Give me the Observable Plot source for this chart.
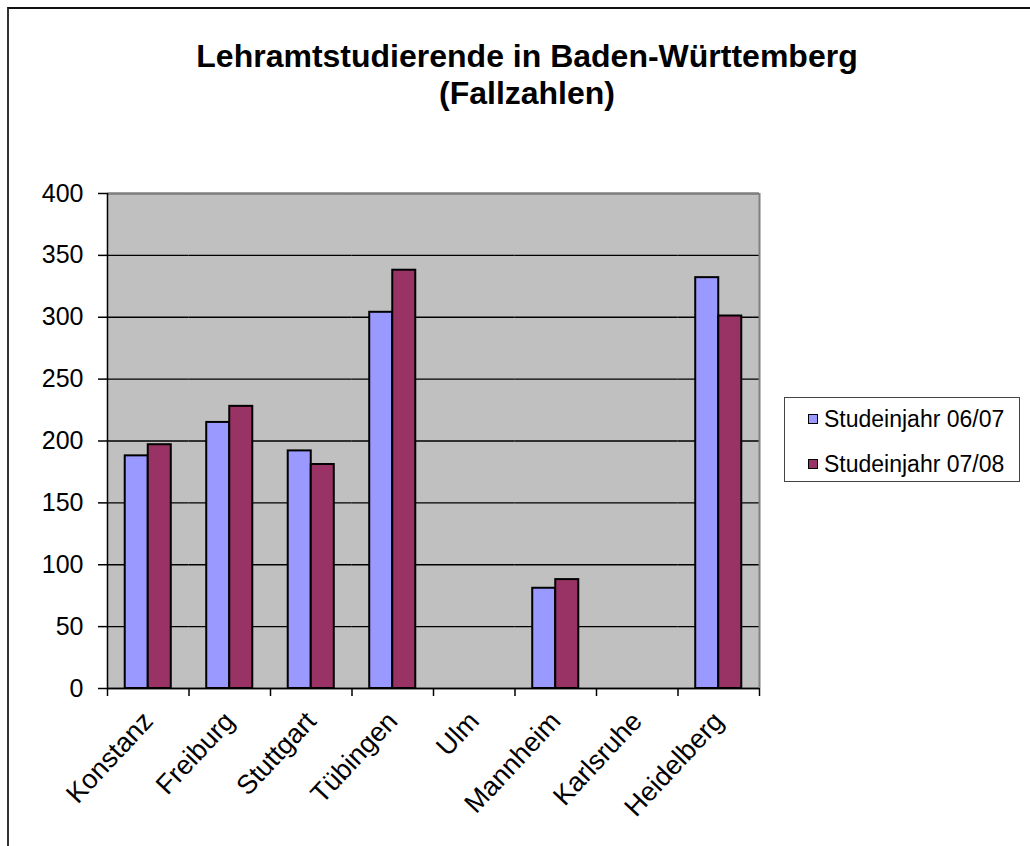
<!DOCTYPE html>
<html><head><meta charset="utf-8">
<script src="https://cdn.jsdelivr.net/npm/d3@7"></script>
<script src="https://cdn.jsdelivr.net/npm/@observablehq/plot@0.6"></script>
<style>
html,body{margin:0;padding:0;background:#fff;width:1030px;height:846px;overflow:hidden;font-family:"Liberation Sans",Arial,sans-serif;}
#frame{position:absolute;left:7px;top:7px;width:1200px;height:1000px;border-top:2px solid #111;border-left:2px solid #333;box-sizing:border-box;}
#wrap{position:absolute;left:0;top:0;width:1030px;}
#title{height:74px;padding:38px 0 38px 24px;text-align:center;font-weight:bold;font-size:32px;line-height:37px;color:#000;}
#chart svg{display:block;overflow:visible;}
#legend{position:absolute;left:784px;top:397px;width:236px;height:85px;border:1px solid #444;background:#fff;box-sizing:border-box;}
.item{position:absolute;left:23px;height:26px;display:flex;align-items:center;font-size:23px;color:#000;white-space:nowrap;}
.sw{width:8px;height:8px;border:1.5px solid #000;margin-right:6px;}
</style>
</head><body>
<div id="frame"></div>
<div id="wrap">
  <div id="title">Lehramtstudierende in Baden-Württemberg<br>(Fallzahlen)</div>
  <div id="chart"></div>
  <div id="legend"></div>
</div>
<script>
const cities = ["Konstanz","Freiburg","Stuttgart","Tübingen","Ulm","Mannheim","Karlsruhe","Heidelberg"];
const series = ["Studeinjahr 06/07","Studeinjahr 07/08"];
const values0607 = [188,215,192,304,0,81,0,332];
const values0708 = [197,228,181,338,0,88,0,301];
const yTicks = [0,50,100,150,200,250,300,350,400];
const colors = ["#9999FF","#993366"];

const data = [];
cities.forEach((c,i)=>{
  data.push({city:c, series:series[0], value:values0607[i]});
  data.push({city:c, series:series[1], value:values0708[i]});
});

const W=1030, H=696, mL=107, mR=271, mT=43, mB=158;
const po = 0.77;
const facetW = (W-mL-mR)/cities.length;
const step = facetW/(series.length+2*po);
const edge = step/2 + po*step;
const last = cities[cities.length-1];

const chart = Plot.plot({
  width: W, height: H, marginLeft: mL, marginRight: mR, marginTop: mT, marginBottom: mB,
  style: {fontFamily: "Liberation Sans, Arial, sans-serif", fontSize: "25px", color: "#000", background: "transparent"},
  fx: {domain: cities, padding: 0, round: false, label: null},
  x: {domain: series, paddingInner: 0, paddingOuter: po, round: false, axis: null},
  y: {domain: [0,400], label: null},
  color: {domain: series, range: colors},
  marks: [
    Plot.frame({fill: "#c0c0c0", stroke: null, insetLeft: -0.6, insetRight: -0.6}),
    Plot.gridY(yTicks, {stroke: "#000", strokeOpacity: 1, strokeWidth: 1.3}),
    Plot.ruleY([400], {stroke: "#808080", strokeWidth: 2}),
    Plot.ruleX([last], {fx: d=>d, x: ()=>series[1], dx: edge, y1: 0, y2: 400, stroke: "#808080", strokeWidth: 2}),
    Plot.barY(data.filter(d=>d.value>0), {fx: "city", x: "series", y: "value", fill: "series", stroke: "#000", strokeWidth: 2}),
    Plot.ruleY([0], {stroke: "#000", strokeWidth: 1.5}),
    Plot.ruleX(cities, {fx: d=>d, x: ()=>series[0], dx: -edge, y1: 0, y2: 0, insetBottom: -8, stroke: "#000", strokeWidth: 1.5}),
    Plot.ruleX([last], {fx: d=>d, x: ()=>series[1], dx: edge, y1: 0, y2: 0, insetBottom: -8, stroke: "#000", strokeWidth: 1.5}),
    Plot.ruleX([cities[0]], {fx: d=>d, x: ()=>series[0], dx: -edge, y1: 0, y2: 400, stroke: "#000", strokeWidth: 1.5}),
    Plot.axisY(yTicks, {anchor: "left", tickSize: 9, tickPadding: 15, fontSize: 25, label: null, stroke: "#000", strokeWidth: 1.5}),
    Plot.axisFx({anchor: "bottom", tickSize: 0, tickRotate: -47, fontSize: 27, label: null, tickPadding: 28})
  ]
});
document.getElementById("chart").appendChild(chart);

const legend = document.getElementById("legend");
const tops = [8, 53];
series.forEach((s,i)=>{
  const it = document.createElement("div");
  it.className = "item";
  it.style.top = tops[i] + "px";
  const sw = document.createElement("div");
  sw.className = "sw";
  sw.style.background = colors[i];
  const tx = document.createElement("span");
  tx.textContent = s;
  it.appendChild(sw); it.appendChild(tx);
  legend.appendChild(it);
});
</script>
</body></html>
